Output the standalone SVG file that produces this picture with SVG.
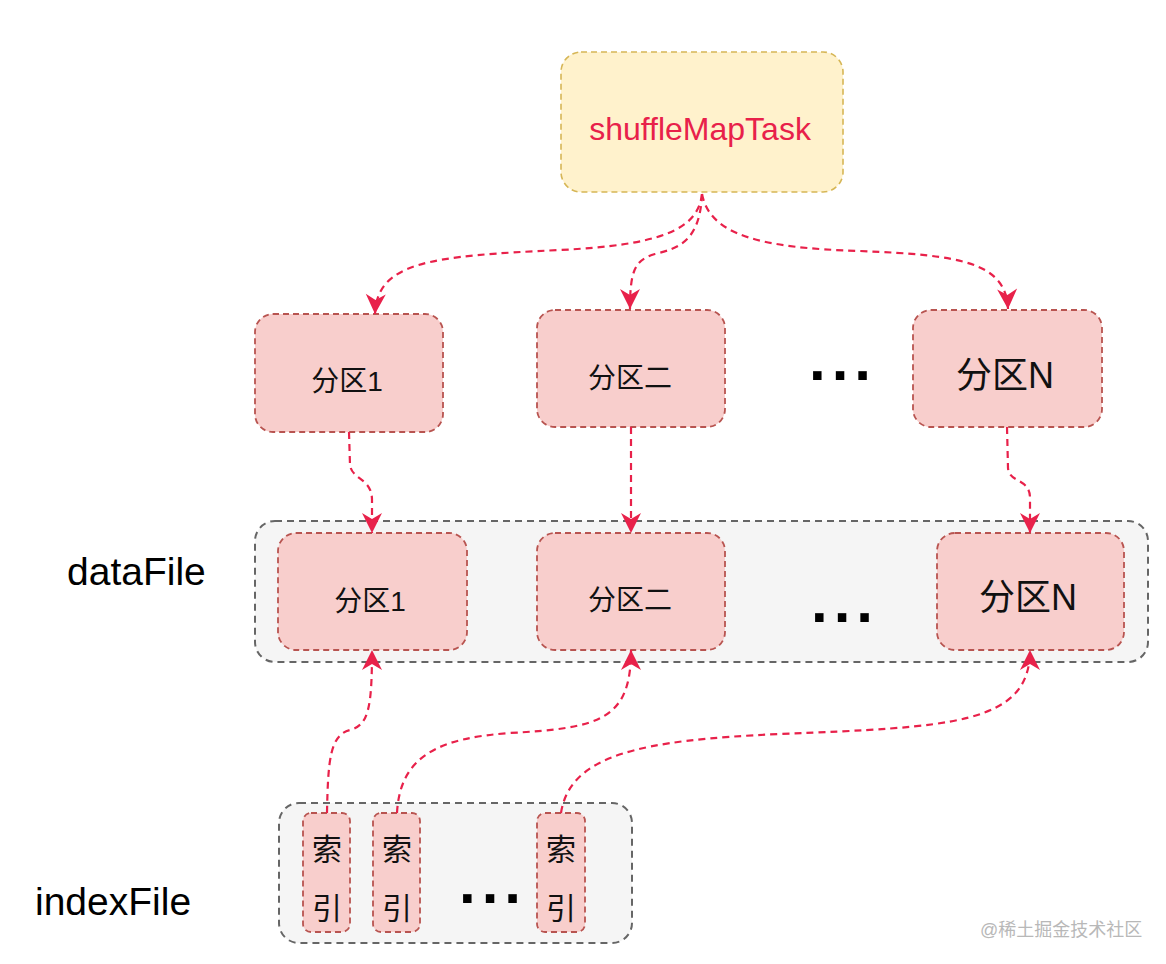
<svg xmlns="http://www.w3.org/2000/svg" width="1166" height="964" viewBox="0 0 1166 964">
<defs>
<style>
.cont{fill:#f5f5f5;stroke:#666666;stroke-width:2;stroke-dasharray:7 5}
.part{fill:#f8cecc;stroke:#b85450;stroke-width:1.8;stroke-dasharray:6 4}
.task{fill:#fff2cc;stroke:#d6b656;stroke-width:1.6;stroke-dasharray:6 4}
.edge{fill:none;stroke:#e8214a;stroke-width:2.2;stroke-dasharray:7 5;marker-end:url(#arr)}
.cjk{font-family:"Liberation Sans","Noto Sans CJK SC",sans-serif;fill:#111111;text-anchor:middle}
.lbl{font-family:"Liberation Sans",Arial,sans-serif;fill:#000000;font-size:39px}
.dots{font-family:"Liberation Sans",Arial,sans-serif;font-weight:bold;font-size:60px;letter-spacing:6px;fill:#000000}
</style>
<marker id="arr" markerUnits="userSpaceOnUse" markerWidth="24" markerHeight="24" viewBox="-22 -12 24 24" refX="0" refY="0" orient="auto">
<path d="M0,0 L-20,-10 L-14,0 L-20,10 Z" fill="#e8214a"/>
</marker>
</defs>
<rect width="1166" height="964" fill="#ffffff"/>

<g id="dataFile">
<rect class="cont" x="255" y="521" width="893" height="141" rx="20"/>
<text class="lbl" x="67" y="585">dataFile</text>
</g>
<g id="indexFile">
<rect class="cont" x="279" y="803" width="353" height="140" rx="20"/>
<text class="lbl" x="35" y="915">indexFile</text>
</g>

<g id="shuffleMapTask">
<rect class="task" x="561" y="52" width="282" height="140" rx="20"/>
<text x="700" y="140" font-family="'Liberation Sans',Arial,sans-serif" font-size="32" fill="#e8214a" text-anchor="middle">shuffleMapTask</text>
</g>

<g id="p1">
<rect class="part" x="255" y="314" width="188" height="118" rx="18"/>
<text class="cjk" x="347" y="391" font-size="28">分区1</text>
</g>
<g id="p2">
<rect class="part" x="537" y="310" width="188" height="117" rx="18"/>
<text class="cjk" x="630" y="388" font-size="28">分区二</text>
</g>
<g id="pdots">
<text class="dots" x="809" y="380">...</text>
</g>
<g id="pN">
<rect class="part" x="913" y="310" width="189" height="117" rx="18"/>
<text class="cjk" x="1005" y="388" font-size="36">分区N</text>
</g>

<g id="d1">
<rect class="part" x="278" y="533" width="189" height="117" rx="18"/>
<text class="cjk" x="370" y="611" font-size="28">分区1</text>
</g>
<g id="d2">
<rect class="part" x="537" y="533" width="188" height="117" rx="18"/>
<text class="cjk" x="630" y="610" font-size="28">分区二</text>
</g>
<g id="ddots">
<text class="dots" x="811" y="622">...</text>
</g>
<g id="dN">
<rect class="part" x="937" y="533" width="187" height="117" rx="18"/>
<text class="cjk" x="1028" y="610" font-size="36">分区N</text>
</g>

<g id="i1">
<rect class="part" x="303" y="813" width="47" height="119" rx="8"/>
<text class="cjk" x="327" y="860" font-size="30">索</text>
<text class="cjk" x="327" y="919" font-size="30">引</text>
</g>
<g id="i2">
<rect class="part" x="373" y="813" width="47" height="119" rx="8"/>
<text class="cjk" x="397" y="860" font-size="30">索</text>
<text class="cjk" x="397" y="919" font-size="30">引</text>
</g>
<g id="idots">
<text class="dots" x="459" y="903">...</text>
</g>
<g id="i3">
<rect class="part" x="537" y="813" width="48" height="119" rx="8"/>
<text class="cjk" x="561" y="860" font-size="30">索</text>
<text class="cjk" x="561" y="919" font-size="30">引</text>
</g>

<g id="connectors">
<path class="edge" d="M702,194 C698,230 660,245 560,250 C430,256 377,262 375,314"/>
<path class="edge" d="M702,194 C700,240 680,248 655,254 C635,260 630,270 630,309"/>
<path class="edge" d="M702,194 C710,235 760,248 860,251 C960,255 1006,262 1008,309"/>
<path class="edge" d="M349,432 L350,465 C352,480 372,478 372,500 L372,533"/>
<path class="edge" d="M631,427 L631,533"/>
<path class="edge" d="M1007,427 L1008,468 C1009,483 1030,478 1030,498 L1030,533"/>
<path class="edge" d="M327,813 C328,760 330,735 350,730 C368,725 372,710 372,650"/>
<path class="edge" d="M397,813 C400,755 440,738 510,733 C600,728 631,720 631,650"/>
<path class="edge" d="M561,813 C570,755 640,740 780,734 C950,727 1030,725 1030,650"/>
</g>

<text x="980" y="936" font-family="'Liberation Sans','Noto Sans CJK SC',sans-serif" font-size="18" fill="#b8b8b8">@稀土掘金技术社区</text>
</svg>
